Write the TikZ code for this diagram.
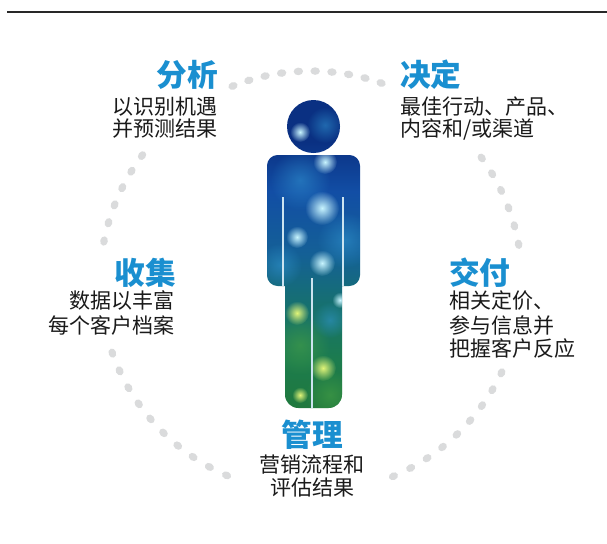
\documentclass[tikz,border=0pt]{standalone}
\usepackage{fontspec}
\newfontfamily\cjk{Noto Sans CJK SC}
\usetikzlibrary{fadings}

\definecolor{titleblue}{RGB}{26,143,208}
\definecolor{bodyink}{RGB}{26,26,26}
\definecolor{dotgray}{RGB}{218,219,220}
\definecolor{rulegray}{RGB}{40,40,40}
\definecolor{figdeep}{RGB}{10,48,130}
\definecolor{figblue}{RGB}{18,78,165}
\definecolor{figsea}{RGB}{20,96,150}
\definecolor{figteal}{RGB}{22,112,112}
\definecolor{figgreen}{RGB}{28,124,78}
\definecolor{figgrass}{RGB}{32,120,60}
\definecolor{glowcyan}{RGB}{200,245,255}
\definecolor{hazecyan}{RGB}{50,150,210}
\definecolor{hazegreen}{RGB}{70,160,70}
\definecolor{glowlime}{RGB}{225,245,120}
\definecolor{seam}{RGB}{205,228,240}

% vertical colour ramp of the figure, bottom (green) to top (deep blue)
\pgfdeclareverticalshading{figshade}{100bp}{%
  color(0bp)=(figgrass); color(25bp)=(figgrass); color(33bp)=(figgreen);
  color(42bp)=(figteal); color(50bp)=(figsea); color(60bp)=(figblue);
  color(68bp)=(figdeep); color(75bp)=(figdeep); color(100bp)=(figdeep)}

% soft radial falloff for highlights
\tikzfading[name=softglow, inner color=transparent!0, outer color=transparent!100]

\begin{document}
\begin{tikzpicture}[x=0.75pt,y=-0.75pt,
  title/.style={font=\cjk\bfseries\fontsize{23}{26}\selectfont, text=titleblue, inner sep=0pt},
  body/.style={font=\cjk\fontsize{15.75}{18}\selectfont, text=bodyink, inner sep=0pt},
  glow/.style={fill=glowcyan, path fading=softglow},
  limeglow/.style={fill=glowlime, path fading=softglow},
  haze/.style={fill=hazecyan, path fading=softglow, opacity=0.55},
  greenhaze/.style={fill=hazegreen, path fading=softglow, opacity=0.6},
  seamline/.style={draw=seam, line width=0.9pt}]

\useasboundingbox (0,0) rectangle (607,543);
\fill[white] (0,0) rectangle (607,543);

% top rule
\draw[rulegray, line width=1.5pt] (7,12) -- (607,12);

% dotted ring, broken where the labels sit
\foreach \s/\e/\n in {70.6/111.7/9, 143.2/168.8/5, 199.7/246.4/9, 293/334.5/8, 10.3/36/5}{
  \foreach \i in {0,...,\n}{
    \pgfmathsetmacro\ang{\s+(\e-\s)*\i/\n}
    \fill[dotgray] ({311+211*cos(\ang)},{282-211*sin(\ang)})
      ellipse [x radius=3.8, y radius=4.7, rotate=\ang];
  }
}

% human figure
\begin{scope}
  \clip (313.5,126.5) circle (26.5)
        [rounded corners=8] (267,155) rectangle (360,286)
        [rounded corners=10] (285,270) rectangle (342,408);
  \shade[shading=figshade] (260,98) rectangle (365,410);
  % broad tinted patches
  \fill[haze] (325,125) circle (18);
  \fill[haze] (300,180) circle (30);
  \fill[haze] (345,240) circle (28);
  \fill[haze] (280,265) circle (22);
  \fill[greenhaze] (300,345) circle (30);
  \fill[greenhaze] (330,395) circle (25);
  \fill[haze] (330,320) circle (18);
  % bright highlights
  \fill[glow] (300,132) circle (10);
  \fill[glow] (325,162) circle (12);
  \fill[glow] (322,208) circle (17);
  \fill[glow] (297,237) circle (11);
  \fill[glow] (322,263) circle (13);
  \fill[glow] (340,300) circle (8);
  \fill[limeglow] (297,313) circle (12);
  \fill[limeglow] (323,368) circle (13);
  \fill[limeglow] (300,395) circle (8);
  \draw[seamline] (283,197) -- (283,286);
  \draw[seamline] (343,197) -- (343,286);
  \draw[seamline] (312,278) -- (312,408);
\end{scope}

% labels
\node[title, anchor=base east] (fenxi) at (218,86) {分析};
\node[body, anchor=base east] (fenxi1) at (218,114) {以识别机遇};
\node[body, anchor=base east] (fenxi2) at (218,136) {并预测结果};

\node[title, anchor=base west] (jueding) at (400,86) {决定};
\node[body, anchor=base west] (jueding1) at (400,114) {最佳行动、产品、};
\node[body, anchor=base west] (jueding2) at (400,136) {内容和/或渠道};

\node[title, anchor=base east] (shouji) at (176,284) {收集};
\node[body, anchor=base east] (shouji1) at (175,308) {数据以丰富};
\node[body, anchor=base east] (shouji2) at (175,333) {每个客户档案};

\node[title, anchor=base west] (jiaofu) at (449,284) {交付};
\node[body, anchor=base west] (jiaofu1) at (449,308) {相关定价、};
\node[body, anchor=base west] (jiaofu2) at (449,333) {参与信息并};
\node[body, anchor=base west] (jiaofu3) at (449,356) {把握客户反应};

\node[title, anchor=base] (guanli) at (312,446) {管理};
\node[body, anchor=base] (guanli1) at (312,472) {营销流程和};
\node[body, anchor=base] (guanli2) at (312,495) {评估结果};
\end{tikzpicture}
\end{document}
